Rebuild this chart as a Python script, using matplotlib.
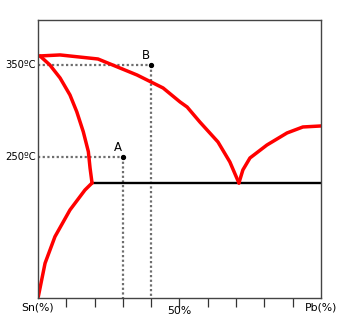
#!/usr/bin/env python3
import matplotlib
matplotlib.use("Agg")
import matplotlib.pyplot as plt

# composition (% Pb) and temperature (C) along each phase boundary
solidus_left_x = [0.7, 4.2, 7.8, 11.3, 13.7, 16.0, 17.8, 18.4, 19.0, 19.1]
solidus_left_t = [359.8, 350.0, 335.9, 317.4, 299.2, 277.5, 255.8, 238.0, 224.0, 221.7]
solvus_x = [19.1, 16.6, 11.3, 6.0, 2.5, 1.3, 0.1]
solvus_t = [221.7, 214.1, 192.4, 163.4, 134.5, 116.3, 98.0]
liq_left_x = [0.7, 7.8, 21.2, 35.0, 44.2, 50.2, 52.7, 57.2, 63.6, 67.8, 71.0]
liq_left_t = [359.8, 360.9, 356.5, 339.1, 325.0, 309.8, 304.3, 288.0, 266.3, 244.6, 221.7]
liq_right_x = [71.0, 72.4, 74.9, 80.9, 88.0, 93.6, 100.0]
liq_right_t = [221.7, 235.9, 248.9, 263.0, 276.1, 282.6, 283.7]

eutectic_t = 221.7
eutectic_x = [19.1, 100.0]

points = {"A": (30, 250), "B": (40, 350)}
temp_labels = ["350ºC", "250ºC"]
temp_values = [350, 250]
x_ticks = [10, 20, 30, 40, 50, 60, 70, 80, 90]

T_MIN, T_MAX = 96.7, 398.9

fig = plt.figure(figsize=(3.53, 3.26), dpi=100)
ax = fig.add_axes([0.1076, 0.0859, 0.8017, 0.8528])
ax.set_xlim(0, 100)
ax.set_ylim(T_MIN, T_MAX)

red = dict(color="#ff0000", lw=2.5, solid_joinstyle="round", solid_capstyle="round")
ax.plot(solidus_left_x, solidus_left_t, **red)
ax.plot(solvus_x, solvus_t, **red)
ax.plot(liq_left_x, liq_left_t, **red)
ax.plot(liq_right_x, liq_right_t, **red)
ax.plot(eutectic_x, [eutectic_t, eutectic_t], color="black", lw=1.7, zorder=1)

# guide lines to the two sample points
dots = dict(color="#6e6e6e", lw=1.6, linestyle=(0, (1, 1.1)), zorder=0)
for name, (px, pt) in points.items():
    ax.plot([0, px], [pt, pt], **dots)
    ax.plot([px, px], [pt, T_MIN], **dots)
    ax.plot(px, pt, "o", color="black", ms=2.8)
    ax.text(px - 1.8, pt + 3, name, fontsize=8.5, ha="center", va="bottom")

for lab, t in zip(temp_labels, temp_values):
    ax.text(-0.7, t, lab, fontsize=7.2, ha="right", va="center", clip_on=False)

ax.set_xticks(x_ticks)
ax.set_xticklabels([])
ax.set_yticks([])
ax.tick_params(axis="x", direction="out", length=6.5, width=0.9, color="#333333")
for s in ax.spines.values():
    s.set_color("#444444")
    s.set_linewidth(1.0)

ax.text(0, 92, "Sn(%)", fontsize=7.8, ha="center", va="top", clip_on=False)
ax.text(50, 88, "50%", fontsize=7.8, ha="center", va="top", clip_on=False)
ax.text(100, 92, "Pb(%)", fontsize=7.8, ha="center", va="top", clip_on=False)

fig.savefig("out.png", dpi=100)
